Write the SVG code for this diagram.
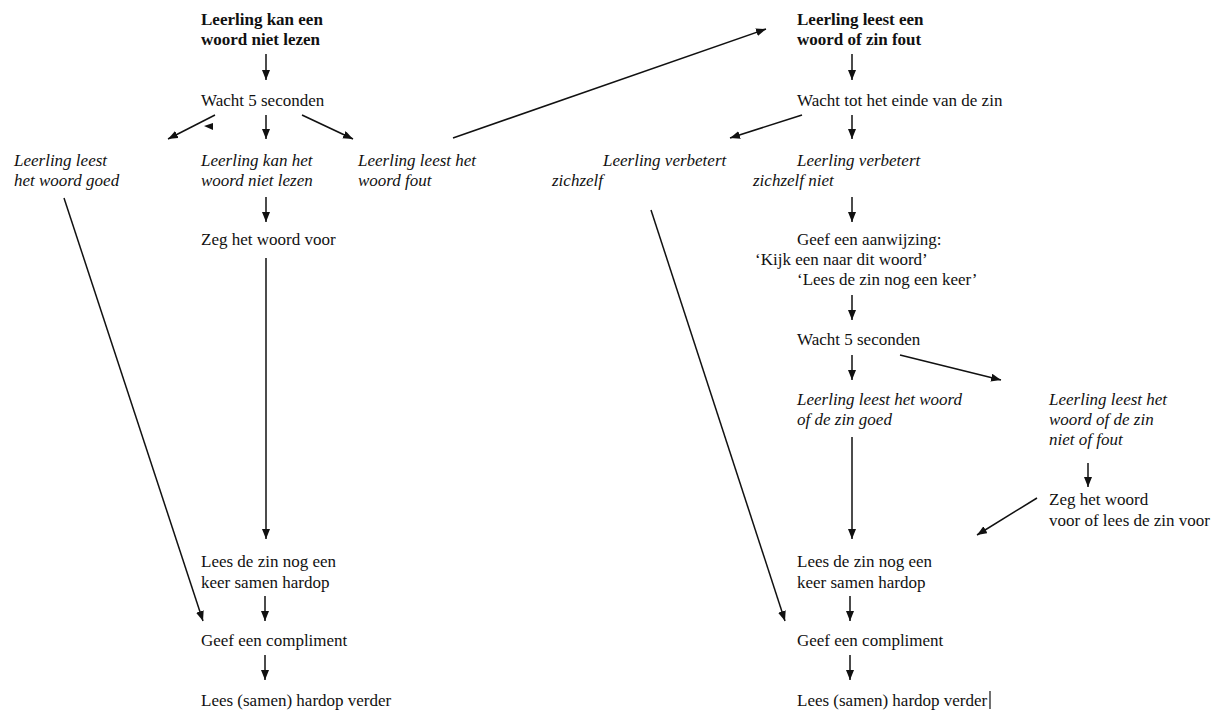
<svg xmlns="http://www.w3.org/2000/svg" width="1232" height="713" viewBox="0 0 1232 713">
<defs>
<marker id="ah" markerUnits="userSpaceOnUse" markerWidth="12" markerHeight="10" refX="10" refY="4" orient="auto">
<path d="M0,0 L10,4 L0,8 Z" fill="#111"/>
</marker>
<style>
text{font-family:"Liberation Serif","Times New Roman",serif;font-size:17px;fill:#111}
.b{font-weight:bold}
.i{font-style:italic}
.c line{stroke:#111;stroke-width:1.5;marker-end:url(#ah)}
</style>
</defs>
<rect width="1232" height="713" fill="#fff"/>

<g id="n-l-start" class="b"><text x="201" y="25">Leerling kan een</text><text x="201" y="45">woord niet lezen</text></g>
<g id="n-l-wait"><text x="201" y="106">Wacht 5 seconden</text></g>
<g id="n-l-goed" class="i"><text x="14" y="166">Leerling leest</text><text x="14" y="186">het woord goed</text></g>
<g id="n-l-niet" class="i"><text x="201" y="166">Leerling kan het</text><text x="201" y="186">woord niet lezen</text></g>
<g id="n-l-fout" class="i"><text x="358" y="166">Leerling leest het</text><text x="358" y="186">woord fout</text></g>
<g id="n-l-zeg"><text x="201" y="245">Zeg het woord voor</text></g>
<g id="n-l-lees"><text x="201" y="567">Lees de zin nog een</text><text x="201" y="588">keer samen hardop</text></g>
<g id="n-l-compl"><text x="201" y="646">Geef een compliment</text></g>
<g id="n-l-verder"><text x="201" y="706">Lees (samen) hardop verder</text></g>

<g id="n-r-start" class="b"><text x="797" y="25">Leerling leest een</text><text x="797" y="45">woord of zin fout</text></g>
<g id="n-r-wait"><text x="797" y="106">Wacht tot het einde van de zin</text></g>
<g id="n-r-zelf" class="i"><text x="603" y="166">Leerling verbetert</text><text x="552" y="186">zichzelf</text></g>
<g id="n-r-zelfniet" class="i"><text x="797" y="166">Leerling verbetert</text><text x="753" y="186">zichzelf niet</text></g>
<g id="n-r-hint"><text x="797" y="245">Geef een aanwijzing:</text><text x="755" y="265">‘Kijk een naar dit woord’</text><text x="797" y="285">‘Lees de zin nog een keer’</text></g>
<g id="n-r-wait2"><text x="797" y="345">Wacht 5 seconden</text></g>
<g id="n-r-goed" class="i"><text x="797" y="405">Leerling leest het woord</text><text x="797" y="425">of de zin goed</text></g>
<g id="n-r-fout" class="i"><text x="1049" y="405">Leerling leest het</text><text x="1049" y="425">woord of de zin</text><text x="1049" y="445">niet of fout</text></g>
<g id="n-r-zeg"><text x="1049" y="505">Zeg het woord</text><text x="1049" y="526">voor of lees de zin voor</text></g>
<g id="n-r-lees"><text x="797" y="567">Lees de zin nog een</text><text x="797" y="588">keer samen hardop</text></g>
<g id="n-r-compl"><text x="797" y="646">Geef een compliment</text></g>
<g id="n-r-verder"><text x="797" y="706">Lees (samen) hardop verder</text><line x1="990" y1="691" x2="990" y2="709" stroke="#111" stroke-width="1.2"/></g>

<g id="connectors" class="c">
<line x1="266" y1="54" x2="266" y2="80"/>
<line x1="215" y1="115" x2="168" y2="139"/>
<line x1="266" y1="115" x2="266" y2="139"/>
<line x1="302" y1="115" x2="353" y2="139"/>
<line x1="453" y1="138" x2="766" y2="29"/>
<line x1="266" y1="197" x2="266" y2="222"/>
<line x1="266" y1="258" x2="266" y2="539"/>
<line x1="265" y1="596" x2="265" y2="621"/>
<line x1="265" y1="655" x2="265" y2="680"/>
<line x1="64" y1="198" x2="203" y2="621"/>

<line x1="852" y1="54" x2="852" y2="80"/>
<line x1="802" y1="115" x2="730" y2="138"/>
<line x1="852" y1="115" x2="852" y2="139"/>
<line x1="852" y1="197" x2="852" y2="222"/>
<line x1="852" y1="295" x2="852" y2="320"/>
<line x1="852" y1="355" x2="852" y2="380"/>
<line x1="900" y1="355" x2="1001" y2="380"/>
<line x1="1088" y1="463" x2="1088" y2="487"/>
<line x1="1037" y1="498" x2="977" y2="535"/>
<line x1="852" y1="437" x2="852" y2="539"/>
<line x1="850" y1="596" x2="850" y2="621"/>
<line x1="850" y1="655" x2="850" y2="680"/>
<line x1="651" y1="210" x2="785" y2="621"/>
</g>
<path id="stray" d="M204,126 L213,123 L213,130 Z" fill="#111"/>
</svg>
